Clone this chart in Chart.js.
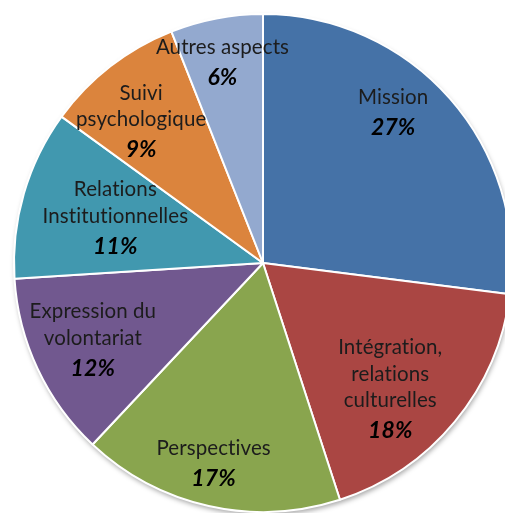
<!DOCTYPE html>
<html lang="fr">
<head>
  <meta charset="UTF-8" />
  <title>Répartition</title>
  <script src="https://cdn.jsdelivr.net/npm/chart.js"></script>
  <style>
    html, body {
      margin: 0;
      padding: 0;
      background: #ffffff;
      overflow: hidden;
      width: 505px;
      height: 513px;
    }
    .graph-container {
      position: absolute;
      left: 0;
      top: 0;
      width: 526px;
      height: 526px;
    }
  </style>
</head>
<body>
  <div class="graph-container">
    <canvas id="canvasGrafica"></canvas>
  </div>

  <script>
    // categories (with line breaks as in the picture) and percentages
    const categorias = [
      ['Mission'],
      ['Intégration,', 'relations', 'culturelles'],
      ['Perspectives'],
      ['Expression du', 'volontariat'],
      ['Relations', 'Institutionnelles'],
      ['Suivi', 'psychologique'],
      ['Autres aspects']
    ];
    const valores = [27, 18, 17, 12, 11, 9, 6];
    const colores = ['#4572A7', '#AA4643', '#89A54E', '#71588F', '#4198AF', '#DB843D', '#93A9CF'];

    // label placement inside each slice (fraction of radius, fraction of slice angle)
    const etiquetaRadio = [0.80, 0.72, 0.83, 0.75, 0.62, 0.75, 0.82];
    const etiquetaAngulo = [0.42, 0.58, 0.52, 0.52, 0.52, 0.41, 0.47];

    // soft shadow under the pie
    const sombra = {
      id: 'sombra',
      beforeDatasetsDraw(chart) {
        const arc = chart.getDatasetMeta(0).data[0];
        if (!arc) return;
        const ctx = chart.ctx;
        ctx.save();
        ctx.shadowColor = 'rgba(0,0,0,0.35)';
        ctx.shadowBlur = 5;
        ctx.shadowOffsetX = 1;
        ctx.shadowOffsetY = 3;
        ctx.beginPath();
        ctx.arc(arc.x, arc.y, arc.outerRadius, 0, Math.PI * 2);
        ctx.fillStyle = '#ffffff';
        ctx.fill();
        ctx.restore();
      }
    };

    // category name + bold italic percentage inside each slice
    const etiquetas = {
      id: 'etiquetas',
      afterDatasetsDraw(chart) {
        const ctx = chart.ctx;
        const meta = chart.getDatasetMeta(0);
        const total = valores.reduce((a, b) => a + b, 0);
        const lh = 26.5;
        const gap = 30;
        ctx.save();
        ctx.textAlign = 'center';
        ctx.textBaseline = 'middle';
        if ('letterSpacing' in ctx) ctx.letterSpacing = '0.1px'; // avoids the "ti" ligature
        meta.data.forEach((arc, i) => {
          const ang = arc.startAngle + (arc.endAngle - arc.startAngle) * etiquetaAngulo[i];
          const r = arc.outerRadius * etiquetaRadio[i];
          const x = arc.x + Math.cos(ang) * r;
          const y = arc.y + Math.sin(ang) * r;
          const lineas = categorias[i];
          const alto = (lineas.length - 1) * lh + gap;
          const y0 = y - alto / 2;
          ctx.font = '20.5px Lato';
          ctx.fillStyle = '#1c1c1c';
          lineas.forEach((t, k) => ctx.fillText(t, x, y0 + k * lh));
          ctx.font = 'italic bold 23px Lato';
          ctx.fillStyle = '#000000';
          ctx.fillText(Math.round(valores[i] / total * 100) + '%', x, y0 + (lineas.length - 1) * lh + gap);
        });
        ctx.restore();
      }
    };

    const ctx = document.getElementById('canvasGrafica').getContext('2d');
    window.grafica = new Chart(ctx, {
      type: 'pie',
      data: {
        labels: categorias.map(c => c.join(' ')),
        datasets: [{
          data: valores,
          backgroundColor: colores,
          borderColor: '#ffffff',
          borderWidth: 2,
          hoverOffset: 0
        }]
      },
      options: {
        responsive: true,
        maintainAspectRatio: false,
        animation: false,
        layout: { padding: 13 },
        plugins: {
          legend: { display: false },
          tooltip: { enabled: false }
        }
      },
      plugins: [sombra, etiquetas]
    });
  </script>
</body>
</html>
